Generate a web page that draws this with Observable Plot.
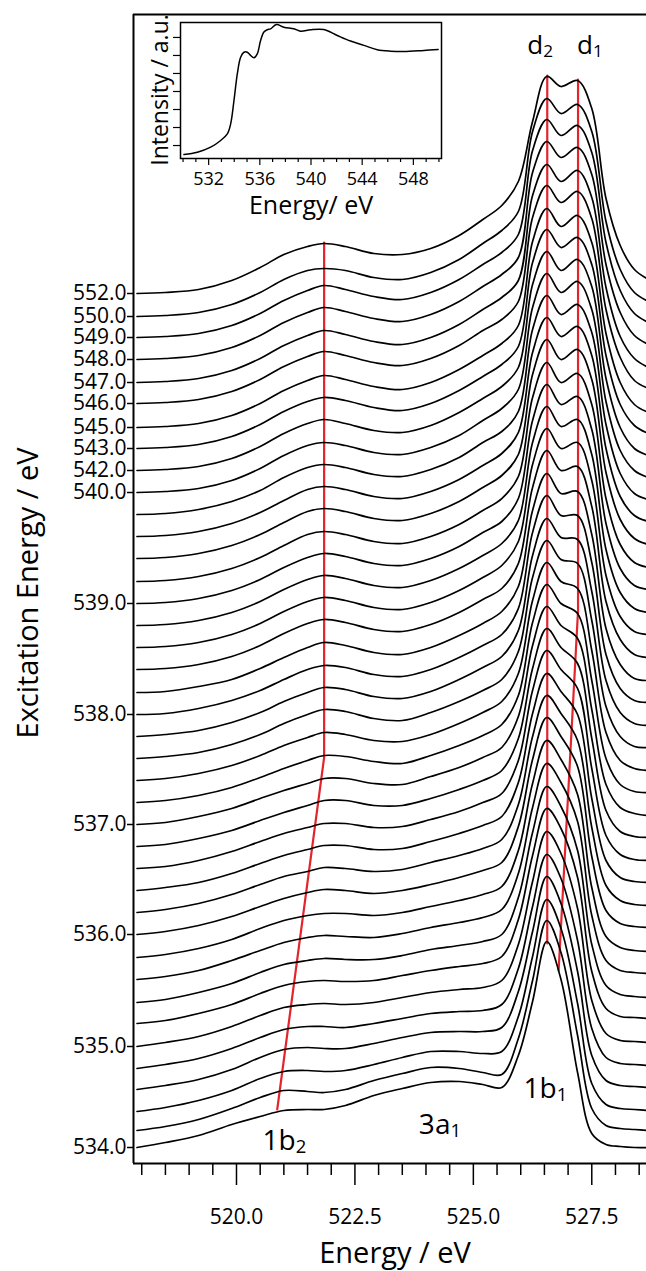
<!DOCTYPE html>
<html>
<head>
<meta charset="utf-8">
<script src="https://cdn.jsdelivr.net/npm/d3@7"></script>
<script src="https://cdn.jsdelivr.net/npm/@observablehq/plot@0.6"></script>
<style>
  body { margin: 0; background: #fff; }
  #wrap { position: relative; width: 646px; height: 1271px; overflow: hidden; background: #fff; }
  #inset { position: absolute; left: 128px; top: 0px; }
  svg text { font-family: "Open Sans", sans-serif; }
</style>
</head>
<body>
<div id="wrap"></div>
<script>
// ---------- DATA ----------
// Emission energy grid (eV) shared by all spectra
const energies = [517.9, 518.5, 519.2, 519.9, 520.5, 521.0, 521.5, 521.85, 522.3, 522.9, 523.5, 524.1, 524.7, 525.2, 525.6, 525.95, 526.25, 526.55, 526.85, 527.2, 527.5, 527.8, 528.1, 528.4, 528.7];

// Excitation energies of the stacked spectra, bottom to top
const excitation = [534.0, 534.2, 534.4, 534.6, 534.8, 535.0, 535.2, 535.4, 535.6, 535.8,
  536.0, 536.2, 536.4, 536.6, 536.8, 537.0, 537.2, 537.4, 537.6, 537.8,
  538.0, 538.2, 538.4, 538.6, 538.8, 539.0, 539.2, 539.4, 539.6, 539.8,
  540.0, 542.0, 543.0, 545.0, 546.0, 547.0, 548.0, 549.0, 550.0, 552.0];

// Vertical waterfall offset of each spectrum (a.u.)
const offsets = [1, 18, 37, 59, 80, 102, 125, 146, 169, 191, 214, 236, 258, 280, 302, 324, 346, 368, 390, 412,
  434, 456, 479, 501, 523, 545, 567, 590, 612, 634, 656, 678, 700, 721, 745, 766, 789, 811, 832, 855];

// Labelled excitation energies on the y axis
const yTickValues = [534.0, 535.0, 536.0, 537.0, 538.0, 539.0, 540.0, 542.0, 543.0, 545.0, 546.0, 547.0, 548.0, 549.0, 550.0, 552.0];

// Intensities (a.u.) of each spectrum at the energies above, bottom to top
const spectra = [
  [0,5,12,23,31,37,38,38,42,52,59,65,66,63,60,92,146,206,168,75,14,3,1,0,0],
  [0,4,11,22,33,40,39,38,41,50,57,63,62,58,56,92,150,210,178,95,22,5,2,1,0],
  [0,4,11,21,33,40,41,40,41,47,54,60,60,58,60,95,155,212,183,108,28,7,3,2,1],
  [0,4,10,20,32,40,42,41,41,46,52,57,58,58,62,98,158,213,186,118,34,9,4,3,2],
  [0,4,10,20,31,39,42,42,41,45,50,55,57,58,64,100,162,214,190,128,40,11,5,4,3],
  [0,4,10,20,31,39,42,43,42,44,49,54,57,59,66,102,165,215,193,138,46,13,6,5,4],
  [0,3,10,19,30,38,42,43,42,43,48,53,57,60,67,104,168,215,195,146,52,15,7,6,5],
  [0,3,10,19,30,38,42,44,43,43,47,53,57,61,68,105,170,216,196,152,58,17,8,6,5],
  [0,3,9,19,29,37,42,44,43,42,46,52,57,62,70,106,172,216,197,158,64,19,9,7,6],
  [0,3,9,18,29,37,42,44,44,42,45,51,57,63,71,107,174,217,198,163,70,21,10,7,6],
  [0,3,9,18,28,36,42,45,44,41,44,50,57,64,72,108,175,217,198,168,78,24,11,8,7],
  [0,3,9,18,28,36,41,45,44,41,43,50,57,64,73,108,176,217,199,172,85,27,12,8,7],
  [0,3,8,17,27,35,41,45,45,41,42,49,57,65,74,108,177,217,199,176,92,30,13,9,8],
  [0,2,8,17,27,35,41,45,45,41,42,49,57,66,75,108,178,218,199,180,100,33,14,9,8],
  [0,2,8,16,26,34,41,46,46,41,41,48,57,66,76,108,178,218,199,183,108,36,15,10,9],
  [0,2,8,16,26,34,41,46,46,41,40,48,57,67,77,108,179,218,199,186,115,40,17,11,9],
  [0,2,7,15,25,34,42,47,46,41,39,47,57,67,78,107,180,218,199,189,122,44,18,11,10],
  [0,2,7,15,25,35,43,48,46,40,39,46,57,68,79,107,180,218,199,192,130,48,20,12,10],
  [0,2,6,14,24,35,44,49,47,40,38,46,57,68,79,107,181,218,199,195,138,52,22,12,11],
  [0,2,6,14,24,35,44,49,47,40,38,45,57,69,80,106,181,218,199,197,145,56,24,13,11],
  [0,1,6,14,24,35,45,49,47,40,38,45,57,69,80,106,182,219,199,199,152,60,26,14,12],
  [0,1,6,13,24,35,45,50,47,40,38,45,57,69,81,106,182,219,199,201,158,64,28,14,12],
  [0,1,5,13,24,36,46,50,47,40,38,45,57,70,81,106,182,219,199,203,163,68,30,15,12],
  [0,1,5,13,24,36,46,50,47,40,38,45,57,70,82,106,183,219,199,205,167,72,31,16,13],
  [0,1,5,13,24,36,46,50,47,40,38,45,57,70,82,105,183,219,199,206,171,76,33,17,13],
  [0,1,5,13,24,36,46,50,47,40,38,45,57,71,82,105,183,219,199,207,174,80,35,18,14],
  [0,1,5,13,24,36,47,50,47,40,38,45,57,71,83,105,184,219,199,208,177,83,37,19,14],
  [0,1,5,13,24,36,47,50,47,40,38,45,57,71,83,104,184,219,199,209,179,86,39,20,14],
  [0,1,5,13,24,36,47,50,47,40,38,45,57,71,83,104,184,219,200,210,181,88,40,21,15],
  [0,1,5,13,24,37,47,50,47,40,38,45,57,72,83,103,185,219,200,210,182,90,41,21,15],
  [0,1,4,12,24,37,47,50,47,40,38,45,57,72,84,103,185,219,200,211,183,91,42,22,15],
  [0,1,4,12,24,37,47,51,47,40,38,45,58,72,84,103,186,219,200,211,184,92,43,22,15],
  [0,1,4,12,24,37,47,51,48,41,38,45,58,72,84,102,186,219,201,211,184,93,44,23,15],
  [0,1,4,12,24,37,47,52,48,41,38,45,58,72,84,102,186,219,201,212,185,94,45,23,15],
  [0,1,4,12,24,37,47,52,48,41,38,45,58,73,84,102,186,218,201,212,185,94,46,23,15],
  [0,1,4,12,24,37,47,52,48,41,38,45,58,73,85,102,187,218,201,212,185,95,46,24,15],
  [0,1,4,12,24,37,47,52,48,41,38,45,58,73,85,102,187,218,202,212,185,95,47,24,15],
  [0,1,4,12,24,37,47,52,48,41,38,45,58,73,85,103,187,218,202,212,185,95,47,24,15],
  [0,1,4,12,24,37,46,48,46,39,37,44,57,73,86,105,185,218,203,212,185,95,47,24,15],
  [0,1,4,13,26,39,47,50,47,40,39,45,58,74,88,112,172,217,207,213,185,95,48,24,14]
];

// Peak-tracking guide lines (energy, stacked intensity)
const guideNames = ["1b2", "d2", "d1"];
const guideEnergies = [[521.85, 521.85, 520.86], [526.56, 526.56], [527.21, 527.21, 526.80]];
const guideLevels = [[906, 391, 39], [1073, 205], [1069, 538, 178]];

// Feature labels (text, subscript, energy, level, font size)
const labelText = ["d", "d", "1b", "3a", "1b"];
const labelSub = ["2", "1", "2", "1", "1"];
const labelEnergy = [526.14, 527.19, 520.55, 523.85, 526.06];
const labelLevel = [1095, 1095, -1, 15, 51];
const labelSize = [26, 26, 28, 28, 28];

// Axis ticks
const xMajorTicks = [520, 522.5, 525, 527.5];
const xMinorTicks = [518, 518.5, 519, 519.5, 520.5, 521, 521.5, 522, 523, 523.5, 524, 524.5, 525.5, 526, 526.5, 527, 528, 528.5];

// Inset: absorption spectrum
const insetEnergy = [530.07, 531.12, 532.16, 532.94, 533.46, 533.72, 533.98, 534.24, 534.5, 534.76, 535.02, 535.28, 535.54, 535.8, 536.06, 536.32, 536.58, 536.84, 537.29, 537.88, 538.66, 539.19, 539.97, 541.0, 542.05, 543.09, 544.13, 545.18, 546.22, 547.26, 548.82, 549.94];
const insetIntensity = [-0.5, -0.37, -0.09, 0.28, 0.65, 1.2, 2.5, 3.98, 4.9, 5.18, 5.18, 5.0, 4.87, 5.09, 5.83, 6.3, 6.43, 6.48, 6.72, 6.57, 6.48, 6.35, 6.43, 6.44, 6.11, 5.8, 5.56, 5.32, 5.24, 5.22, 5.28, 5.33];
const insetMajorTicks = [532, 536, 540, 544, 548];
const insetMinorTicks = [530, 531, 533, 534, 535, 537, 538, 539, 541, 542, 543, 545, 546, 547, 549, 550];
const insetYTicks = [0, 1, 2, 3, 4, 5, 6];

// ---------- BUILD ----------
const FONT = "'Open Sans', sans-serif";
const xDomain = [517.826, 528.655];
const yDomain = [-15, 1134];

const curvePts = [];
spectra.forEach((s, r) => s.forEach((v, c) => curvePts.push({row: r, e: energies[c], v: offsets[r] + v})));

const guidePts = [];
guideNames.forEach((n, i) => guideEnergies[i].forEach((e, j) => guidePts.push({id: n, e, v: guideLevels[i][j]})));

const labels = labelText.map((t, i) => ({t: t + "_" + labelSub[i], e: labelEnergy[i], v: labelLevel[i], fs: labelSize[i]}));

const tickOffsets = yTickValues.map(v => offsets[excitation.findIndex(x => Math.abs(x - v) < 1e-6)]);
const tickLabel = new Map(tickOffsets.map((o, i) => [o, d3.format(".1f")(yTickValues[i])]));

const main = Plot.plot({
  width: 646, height: 1271,
  marginLeft: 133, marginRight: 0, marginTop: 14, marginBottom: 108,
  x: {domain: xDomain},
  y: {domain: yDomain},
  style: {fontFamily: FONT, fontSize: "21px", color: "black", background: "transparent", overflow: "hidden"},
  marks: [
    Plot.line(guidePts, {x: "e", y: "v", z: "id", stroke: "#e3242b", strokeWidth: 2.2}),
    Plot.line(curvePts, {x: "e", y: "v", z: "row", stroke: "black", strokeWidth: 1.7, curve: "catmull-rom"}),
    Plot.ruleX([xDomain[0]], {stroke: "black", strokeWidth: 2}),
    Plot.ruleY([yDomain[0]], {stroke: "black", strokeWidth: 2}),
    Plot.ruleY([yDomain[1]], {stroke: "black", strokeWidth: 2}),
    Plot.axisY(tickOffsets, {tickSize: 6, tickPadding: 1, strokeWidth: 1.5, fontSize: 21, label: null, tickFormat: d => tickLabel.get(d)}),
    Plot.axisX(xMinorTicks, {tickSize: 12, strokeWidth: 1.5, label: null, tickFormat: () => ""}),
    Plot.axisX(xMajorTicks, {tickSize: 22, tickPadding: 24, strokeWidth: 1.5, fontSize: 21, label: null, tickFormat: d3.format(".1f")}),
    Plot.text(labels, {x: "e", y: "v", text: "t", fontSize: "fs", textAnchor: "start", lineAnchor: "bottom", fill: "black"})
  ]
});

const msvg = d3.select(main.tagName.toLowerCase() === "svg" ? main : main.querySelector("svg"));
// subscripts
msvg.selectAll("text").each(function() {
  const t = this.textContent;
  if (t.includes("_")) {
    const [a, b] = t.split("_");
    const el = d3.select(this);
    el.text(a);
    el.append("tspan").attr("font-size", "0.66em").attr("dy", "0.2em").text(b);
  }
});
// axis titles
msvg.append("text").attr("x", 395).attr("y", 1263).attr("text-anchor", "middle")
  .style("font-size", "29px").style("font-family", FONT).attr("fill", "black").text("Energy / eV");
msvg.append("text").attr("transform", "translate(38,593) rotate(-90)").attr("text-anchor", "middle")
  .style("font-size", "29px").style("font-family", FONT).attr("fill", "black").text("Excitation Energy / eV");

document.getElementById("wrap").appendChild(main);

// ---------- INSET ----------
const insetPts = insetEnergy.map((e, i) => ({e, v: insetIntensity[i]}));
const inset = Plot.plot({
  width: 317, height: 225,
  marginLeft: 52, marginRight: 4, marginTop: 22, marginBottom: 67,
  x: {domain: [529.8, 550.2]},
  y: {domain: [-0.72, 6.83]},
  style: {fontFamily: FONT, fontSize: "18px", color: "black", background: "transparent"},
  marks: [
    Plot.frame({stroke: "black", strokeWidth: 1.5}),
    Plot.line(insetPts, {x: "e", y: "v", stroke: "black", strokeWidth: 1.5, curve: "catmull-rom"}),
    Plot.axisX(insetMinorTicks, {tickSize: 4, strokeWidth: 1.2, label: null, tickFormat: () => ""}),
    Plot.axisX(insetMajorTicks, {tickSize: 7, tickPadding: 7, strokeWidth: 1.2, fontSize: 18, label: null, tickFormat: d3.format("d")}),
    Plot.axisY(insetYTicks, {tickSize: 7, strokeWidth: 1.2, label: null, tickFormat: () => ""})
  ]
});
inset.id = "inset";
const isvg = d3.select(inset);
isvg.append("text").attr("x", 183).attr("y", 214).attr("text-anchor", "middle")
  .style("font-size", "25px").style("font-family", FONT).attr("fill", "black").text("Energy/ eV");
isvg.append("text").attr("transform", "translate(40,90) rotate(-90)").attr("text-anchor", "middle")
  .style("font-size", "23px").style("font-family", FONT).attr("fill", "black").text("Intensity / a.u.");
document.getElementById("wrap").appendChild(inset);
</script>
</body>
</html>
